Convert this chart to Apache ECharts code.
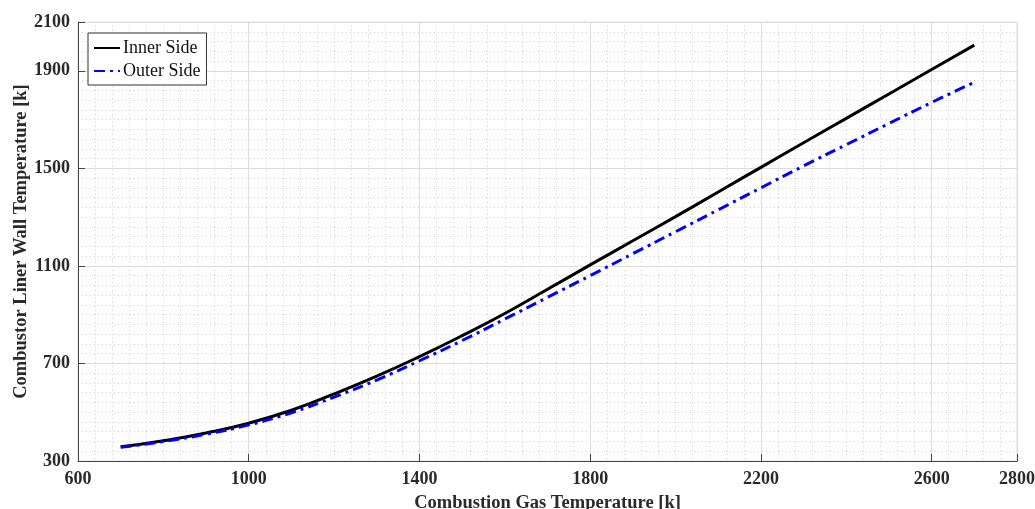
<!DOCTYPE html>
<html>
<head>
<meta charset="utf-8">
<script src="https://cdn.jsdelivr.net/npm/echarts@6/dist/echarts.min.js"></script>
<style>
html,body{margin:0;padding:0;background:#fff;}
#chart{width:1035px;height:509px;}
</style>
</head>
<body>
<div id="chart"></div>
<script>
const gasTemp = [700, 800, 900, 1000, 1100, 1200, 1300, 1400, 1500, 1600, 1700, 1800, 1900, 2000, 2100, 2200, 2300, 2400, 2500, 2600, 2700];
const innerSide = [358, 383, 415, 455, 508, 575, 648, 728, 814, 905, 1004, 1104, 1203, 1302, 1403, 1504, 1605, 1705, 1805, 1905, 2005];
const outerSide = [356, 380, 410, 448, 498, 562, 632, 711, 794, 882, 971, 1060, 1150, 1240, 1330, 1420, 1510, 1597, 1684, 1770, 1853];
const seriesNames = ['Inner Side', 'Outer Side'];
const xTitle = 'Combustion Gas Temperature [k]';
const yTitle = 'Combustor Liner Wall Temperature [k]';

const serif = '"Liberation Serif", "DejaVu Serif", serif';
const chart = echarts.init(document.getElementById('chart'));

function pairs(xs, ys) { return xs.map((x, i) => [x, ys[i]]); }

const minorAxisCommon = {
  axisLine: {show: false}, axisTick: {show: false}, axisLabel: {show: false},
  splitLine: {show: true, lineStyle: {color: '#d2d2d2', type: [1, 3], width: 1}}
};

chart.setOption({
  animation: false,
  backgroundColor: '#fff',
  grid: {left: 78, right: 18, top: 22, bottom: 48, containLabel: false, outerBoundsMode: 'none',
         show: true, borderColor: '#dedede', borderWidth: 1, backgroundColor: 'transparent'},
  legend: {
    orient: 'vertical', left: 88, top: 33,
    backgroundColor: '#fff', borderColor: '#333', borderWidth: 1,
    padding: [5, 6, 4, 5], itemGap: 3, itemWidth: 26, itemHeight: 14,
    itemStyle: {opacity: 0},
    textStyle: {fontFamily: serif, fontSize: 18, color: '#111', lineHeight: 20, padding: [0,0,0,-2]},
    data: seriesNames
  },
  xAxis: [
    {
      type: 'value', min: 600, max: 2800, interval: 400,
      name: xTitle, nameLocation: 'middle', nameGap: 33, nameMoveOverlap: false,
      nameTextStyle: {fontFamily: serif, fontSize: 18.5, fontWeight: 'bold', color: '#2a2a2a'},
      axisLine: {show: true, onZero: false, lineStyle: {color: '#444', width: 1}},
      axisTick: {show: true, inside: true, length: 7, lineStyle: {color: '#444'}},
      axisLabel: {fontFamily: serif, fontSize: 18, fontWeight: 'bold', color: '#2a2a2a', margin: 9,
                  formatter: v => String(v)},
      splitLine: {show: true, lineStyle: {color: '#dcdcdc', width: 1}},
      z: 3
    },
    Object.assign({type: 'value', min: 600, max: 2800, interval: 40, gridIndex: 0, position: 'bottom', z: 1}, minorAxisCommon)
  ],
  yAxis: [
    {
      type: 'value', min: 300, max: 2100, interval: 400,
      name: yTitle, nameLocation: 'middle', nameGap: 47, nameMoveOverlap: false,
      nameTextStyle: {fontFamily: serif, fontSize: 18.5, fontWeight: 'bold', color: '#2a2a2a'},
      axisLine: {show: true, onZero: false, lineStyle: {color: '#444', width: 1}},
      axisTick: {show: true, inside: true, length: 7, lineStyle: {color: '#444'}},
      axisLabel: {fontFamily: serif, fontSize: 18, fontWeight: 'bold', color: '#2a2a2a', margin: 8,
                  formatter: v => String(v)},
      splitLine: {show: true, lineStyle: {color: '#dcdcdc', width: 1}},
      z: 3
    },
    Object.assign({type: 'value', min: 300, max: 2100, interval: 40, gridIndex: 0, position: 'left', z: 1}, minorAxisCommon)
  ],
  series: [
    {
      name: seriesNames[0], type: 'line', xAxisIndex: 0, yAxisIndex: 0,
      data: pairs(gasTemp, innerSide), smooth: 0.5, symbol: 'none',
      lineStyle: {color: '#000', width: 3}, itemStyle: {color: '#000'}, z: 5
    },
    {
      name: seriesNames[1], type: 'line', xAxisIndex: 0, yAxisIndex: 0,
      data: pairs(gasTemp, outerSide), smooth: 0.5, symbol: 'none',
      lineStyle: {color: '#0000ff', width: 3, type: [11, 5, 3, 5]}, itemStyle: {color: '#0000ff'}, z: 6
    }
  ]
});
</script>
</body>
</html>
